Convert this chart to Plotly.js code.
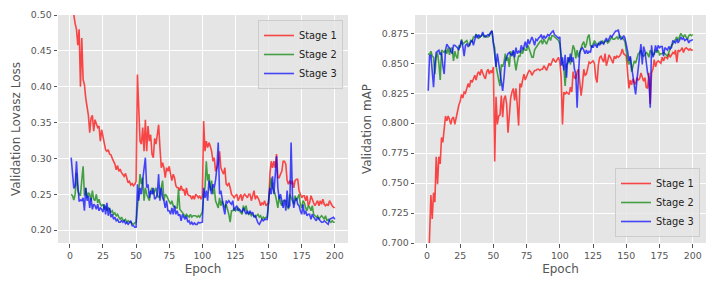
<!DOCTYPE html>
<html>
<head>
<meta charset="utf-8">
<script src="https://cdn.plot.ly/plotly-3.0.1.min.js"></script>
<style>
  html, body { margin: 0; padding: 0; background: #ffffff; }
  #chart { width: 720px; height: 288px; }
</style>
</head>
<body>
<div id="chart"></div>
<script>
// Epoch index (1..200)
const epochs = Array.from({length: 200}, (_, i) => i + 1);

const seriesNames = ["Stage 1", "Stage 2", "Stage 3"];

// Validation Lovasz Loss per epoch
const lossStage1 = [
  0.560,0.530,0.500,0.488,0.480,0.458,0.480,0.400,0.468,0.410,
  0.403,0.384,0.372,0.360,0.336,0.356,0.360,0.338,0.354,0.347,
  0.343,0.345,0.324,0.340,0.330,0.320,0.312,0.310,0.312,0.306,
  0.305,0.300,0.296,0.292,0.284,0.290,0.282,0.285,0.280,0.278,
  0.275,0.279,0.271,0.266,0.268,0.263,0.265,0.262,0.264,0.268,
  0.417,0.361,0.324,0.320,0.343,0.310,0.354,0.310,0.345,0.324,
  0.333,0.306,0.301,0.328,0.320,0.333,0.347,0.315,0.287,0.294,
  0.287,0.273,0.287,0.282,0.289,0.278,0.269,0.278,0.273,0.262,
  0.259,0.259,0.255,0.262,0.255,0.257,0.248,0.259,0.250,0.248,
  0.248,0.243,0.248,0.243,0.250,0.248,0.245,0.248,0.243,0.248,
  0.352,0.310,0.324,0.315,0.322,0.317,0.310,0.296,0.301,0.282,
  0.287,0.292,0.310,0.287,0.282,0.278,0.287,0.264,0.262,0.266,
  0.259,0.250,0.248,0.245,0.248,0.250,0.241,0.245,0.250,0.241,
  0.248,0.250,0.248,0.245,0.250,0.250,0.241,0.248,0.255,0.243,
  0.248,0.245,0.241,0.234,0.238,0.236,0.241,0.234,0.236,0.238,
  0.278,0.296,0.287,0.296,0.287,0.306,0.273,0.273,0.278,0.282,
  0.296,0.296,0.292,0.269,0.264,0.269,0.264,0.269,0.259,0.269,
  0.271,0.271,0.255,0.250,0.245,0.248,0.248,0.241,0.248,0.234,
  0.238,0.248,0.241,0.238,0.234,0.238,0.241,0.234,0.241,0.236,
  0.243,0.236,0.234,0.236,0.234,0.241,0.236,0.234,0.232,0.231
];
const lossStage2 = [
  0.250,0.248,0.242,0.250,0.280,0.255,0.250,0.248,0.270,0.289,
  0.248,0.259,0.245,0.252,0.250,0.241,0.255,0.243,0.241,0.250,
  0.238,0.243,0.236,0.234,0.236,0.229,0.234,0.227,0.231,0.229,
  0.225,0.227,0.222,0.224,0.220,0.222,0.218,0.215,0.218,0.214,
  0.213,0.215,0.211,0.213,0.211,0.211,0.209,0.208,0.210,0.211,
  0.231,0.259,0.278,0.264,0.273,0.241,0.259,0.250,0.245,0.241,
  0.255,0.259,0.250,0.255,0.259,0.248,0.245,0.250,0.260,0.269,
  0.241,0.250,0.248,0.243,0.241,0.236,0.241,0.234,0.233,0.231,
  0.231,0.257,0.229,0.227,0.225,0.222,0.218,0.222,0.220,0.218,
  0.222,0.218,0.220,0.220,0.220,0.218,0.220,0.218,0.222,0.225,
  0.250,0.259,0.296,0.269,0.278,0.255,0.269,0.250,0.259,0.241,
  0.236,0.231,0.245,0.234,0.241,0.234,0.231,0.236,0.230,0.222,
  0.211,0.227,0.227,0.231,0.227,0.229,0.231,0.227,0.225,0.222,
  0.234,0.227,0.234,0.224,0.222,0.225,0.220,0.222,0.220,0.218,
  0.220,0.222,0.218,0.220,0.215,0.218,0.216,0.218,0.218,0.245,
  0.259,0.273,0.259,0.255,0.250,0.241,0.231,0.248,0.238,0.234,
  0.241,0.241,0.241,0.234,0.229,0.250,0.245,0.241,0.236,0.248,
  0.241,0.245,0.250,0.236,0.231,0.241,0.238,0.231,0.227,0.234,
  0.232,0.227,0.234,0.222,0.220,0.218,0.220,0.215,0.218,0.220,
  0.218,0.215,0.220,0.213,0.215,0.213,0.211,0.213,0.211,0.211
];
const lossStage3 = [
  0.301,0.282,0.258,0.262,0.296,0.264,0.240,0.242,0.241,0.245,
  0.227,0.259,0.241,0.248,0.231,0.245,0.229,0.236,0.234,0.229,
  0.236,0.227,0.231,0.229,0.225,0.236,0.222,0.238,0.220,0.231,
  0.218,0.222,0.215,0.218,0.213,0.215,0.211,0.211,0.213,0.211,
  0.213,0.209,0.211,0.208,0.210,0.213,0.206,0.206,0.204,0.204,
  0.264,0.241,0.259,0.250,0.270,0.287,0.301,0.259,0.264,0.245,
  0.255,0.250,0.259,0.243,0.245,0.250,0.278,0.241,0.259,0.245,
  0.241,0.231,0.241,0.227,0.227,0.222,0.231,0.222,0.234,0.222,
  0.227,0.220,0.222,0.213,0.222,0.218,0.215,0.220,0.211,0.213,
  0.208,0.211,0.208,0.210,0.208,0.208,0.211,0.210,0.211,0.211,
  0.259,0.245,0.255,0.241,0.269,0.259,0.250,0.264,0.259,0.270,
  0.287,0.322,0.250,0.255,0.241,0.231,0.222,0.241,0.238,0.241,
  0.238,0.236,0.241,0.227,0.231,0.234,0.227,0.229,0.227,0.225,
  0.231,0.226,0.222,0.227,0.222,0.227,0.223,0.225,0.218,0.220,
  0.213,0.210,0.208,0.213,0.215,0.213,0.215,0.215,0.215,0.241,
  0.259,0.250,0.275,0.250,0.278,0.303,0.259,0.243,0.250,0.238,
  0.231,0.243,0.227,0.255,0.231,0.234,0.322,0.250,0.231,0.241,
  0.245,0.236,0.234,0.227,0.222,0.236,0.222,0.227,0.220,0.222,
  0.222,0.215,0.222,0.218,0.215,0.213,0.218,0.215,0.213,0.211,
  0.211,0.213,0.211,0.209,0.208,0.215,0.216,0.218,0.218,0.215
];

// Validation mAP per epoch
const mapStage1 = [
  0.670,0.700,0.740,0.720,0.742,0.734,0.772,0.749,0.772,0.766,
  0.788,0.784,0.799,0.806,0.802,0.806,0.803,0.799,0.804,0.805,
  0.799,0.805,0.811,0.815,0.818,0.824,0.821,0.826,0.825,0.829,
  0.833,0.830,0.836,0.834,0.837,0.840,0.836,0.841,0.843,0.840,
  0.845,0.841,0.839,0.837,0.843,0.845,0.841,0.844,0.842,0.847,
  0.768,0.822,0.799,0.806,0.807,0.823,0.805,0.820,0.823,0.816,
  0.792,0.806,0.821,0.826,0.829,0.819,0.829,0.815,0.798,0.833,
  0.830,0.836,0.841,0.836,0.840,0.842,0.844,0.843,0.840,0.842,
  0.844,0.844,0.845,0.845,0.844,0.845,0.845,0.848,0.846,0.844,
  0.847,0.850,0.848,0.852,0.854,0.852,0.851,0.853,0.855,0.851,
  0.838,0.799,0.826,0.824,0.826,0.825,0.824,0.830,0.826,0.843,
  0.838,0.837,0.843,0.845,0.836,0.823,0.832,0.845,0.840,0.841,
  0.846,0.851,0.850,0.851,0.852,0.850,0.838,0.834,0.849,0.855,
  0.856,0.853,0.851,0.858,0.848,0.852,0.857,0.855,0.852,0.850,
  0.856,0.854,0.856,0.855,0.856,0.858,0.862,0.858,0.857,0.856,
  0.842,0.829,0.836,0.832,0.837,0.834,0.833,0.838,0.836,0.837,
  0.842,0.838,0.835,0.838,0.830,0.829,0.842,0.816,0.842,0.845,
  0.853,0.847,0.851,0.852,0.851,0.850,0.855,0.852,0.855,0.855,
  0.854,0.858,0.855,0.857,0.859,0.858,0.861,0.851,0.861,0.860,
  0.861,0.863,0.859,0.862,0.863,0.862,0.861,0.862,0.861,0.861
];
const mapStage2 = [
  0.858,0.857,0.860,0.856,0.855,0.841,0.855,0.859,0.850,0.836,
  0.861,0.860,0.859,0.861,0.858,0.863,0.857,0.862,0.863,0.852,
  0.860,0.856,0.854,0.865,0.863,0.870,0.866,0.867,0.868,0.869,
  0.866,0.865,0.869,0.868,0.872,0.872,0.874,0.873,0.871,0.872,
  0.873,0.874,0.872,0.873,0.872,0.872,0.874,0.876,0.877,0.867,
  0.863,0.848,0.840,0.836,0.831,0.849,0.847,0.851,0.858,0.852,
  0.855,0.847,0.860,0.857,0.860,0.853,0.844,0.851,0.856,0.856,
  0.861,0.858,0.863,0.861,0.861,0.865,0.861,0.858,0.855,0.855,
  0.861,0.863,0.865,0.866,0.868,0.869,0.866,0.870,0.868,0.866,
  0.869,0.872,0.869,0.873,0.873,0.872,0.871,0.870,0.869,0.866,
  0.856,0.849,0.847,0.831,0.849,0.850,0.855,0.849,0.858,0.865,
  0.862,0.854,0.861,0.855,0.859,0.863,0.866,0.868,0.863,0.866,
  0.872,0.874,0.865,0.863,0.866,0.869,0.867,0.865,0.866,0.868,
  0.866,0.869,0.867,0.868,0.869,0.867,0.868,0.870,0.872,0.870,
  0.870,0.871,0.872,0.870,0.873,0.872,0.871,0.870,0.868,0.861,
  0.852,0.849,0.855,0.843,0.849,0.852,0.850,0.855,0.858,0.859,
  0.861,0.857,0.856,0.857,0.859,0.858,0.855,0.861,0.859,0.857,
  0.858,0.861,0.859,0.861,0.857,0.858,0.858,0.859,0.858,0.857,
  0.856,0.859,0.863,0.865,0.866,0.868,0.870,0.872,0.869,0.872,
  0.875,0.873,0.872,0.874,0.872,0.870,0.873,0.874,0.873,0.874
];
const mapStage3 = [
  0.827,0.856,0.857,0.846,0.830,0.849,0.859,0.860,0.861,0.857,
  0.859,0.848,0.841,0.861,0.866,0.864,0.863,0.860,0.858,0.865,
  0.865,0.864,0.863,0.861,0.866,0.869,0.864,0.856,0.865,0.866,
  0.864,0.865,0.868,0.869,0.865,0.870,0.874,0.871,0.874,0.872,
  0.873,0.876,0.873,0.872,0.873,0.874,0.873,0.876,0.877,0.868,
  0.855,0.847,0.858,0.849,0.844,0.836,0.827,0.838,0.852,0.855,
  0.858,0.859,0.857,0.856,0.861,0.855,0.863,0.858,0.860,0.859,
  0.865,0.861,0.864,0.868,0.863,0.870,0.866,0.870,0.872,0.869,
  0.865,0.870,0.869,0.871,0.872,0.874,0.870,0.873,0.871,0.872,
  0.874,0.873,0.875,0.876,0.877,0.874,0.873,0.872,0.871,0.872,
  0.848,0.855,0.844,0.857,0.838,0.855,0.851,0.858,0.851,0.855,
  0.845,0.841,0.813,0.841,0.859,0.862,0.863,0.861,0.858,0.861,
  0.858,0.860,0.859,0.865,0.863,0.866,0.865,0.863,0.867,0.865,
  0.868,0.867,0.866,0.869,0.871,0.868,0.870,0.873,0.872,0.874,
  0.876,0.877,0.877,0.878,0.872,0.870,0.871,0.873,0.871,0.866,
  0.860,0.852,0.856,0.847,0.839,0.831,0.824,0.836,0.847,0.855,
  0.866,0.849,0.864,0.860,0.849,0.842,0.838,0.813,0.865,0.855,
  0.858,0.865,0.860,0.865,0.863,0.864,0.864,0.856,0.863,0.862,
  0.861,0.864,0.862,0.863,0.869,0.868,0.867,0.870,0.867,0.869,
  0.872,0.870,0.871,0.869,0.870,0.870,0.867,0.869,0.869,0.870
];

const lossSeries = [lossStage1, lossStage2, lossStage3];
const mapSeries = [mapStage1, mapStage2, mapStage3];
const lineColors = ["rgba(255,0,0,0.7)", "rgba(0,128,0,0.7)", "rgba(0,0,255,0.7)"];

const traces = [];
lossSeries.forEach((ys, i) => {
  traces.push({
    type: "scatter", mode: "lines", name: seriesNames[i],
    x: epochs, y: ys, xaxis: "x", yaxis: "y", legend: "legend",
    line: {color: lineColors[i], width: 1.6}
  });
});
mapSeries.forEach((ys, i) => {
  traces.push({
    type: "scatter", mode: "lines", name: seriesNames[i],
    x: epochs, y: ys, xaxis: "x2", yaxis: "y2", legend: "legend2",
    line: {color: lineColors[i], width: 1.6}
  });
});

const FONT = "DejaVu Sans, sans-serif";
const tickFont = {family: FONT, size: 9.4, color: "#555555"};
const titleFont = {family: FONT, size: 12, color: "#555555"};

function xAxis(domain, anchor) {
  return {
    domain: domain, anchor: anchor, range: [-8.95, 209.95],
    tick0: 0, dtick: 25, ticks: "outside", ticklen: 3.5, tickwidth: 1, tickcolor: "#555555",
    showgrid: true, gridcolor: "#ffffff", gridwidth: 1, zeroline: false, showline: false,
    tickfont: tickFont, automargin: false,
    title: {text: "Epoch", font: titleFont, standoff: 4}
  };
}

const layout = {
  width: 720, height: 288,
  margin: {l: 0, r: 0, t: 0, b: 0},
  paper_bgcolor: "#ffffff", plot_bgcolor: "#E5E5E5",
  showlegend: true,
  xaxis: xAxis([58/720, 348/720], "y"),
  xaxis2: xAxis([415/720, 706/720], "y2"),
  yaxis: {
    domain: [1 - 243/288, 1 - 15/288], anchor: "x", range: [0.182, 0.5],
    tick0: 0.2, dtick: 0.05, tickformat: ".2f",
    ticks: "outside", ticklen: 3.5, tickwidth: 1, tickcolor: "#555555",
    showgrid: true, gridcolor: "#ffffff", gridwidth: 1, zeroline: false, showline: false,
    tickfont: tickFont, automargin: false,
    title: {text: "Validation Lovasz Loss", font: titleFont, standoff: 7}
  },
  yaxis2: {
    domain: [1 - 243/288, 1 - 15/288], anchor: "x2", range: [0.7, 0.8903],
    tick0: 0.7, dtick: 0.025, tickformat: ".3f",
    ticks: "outside", ticklen: 3.5, tickwidth: 1, tickcolor: "#555555",
    showgrid: true, gridcolor: "#ffffff", gridwidth: 1, zeroline: false, showline: false,
    tickfont: tickFont, automargin: false,
    title: {text: "Validation mAP", font: titleFont, standoff: 7}
  },
  legend: {
    x: 343/720, xanchor: "right", y: 1 - 20/288, yanchor: "top",
    bgcolor: "rgba(229,229,229,0.8)", bordercolor: "#CCCCCC", borderwidth: 1,
    font: {family: FONT, size: 9.8, color: "#222222"}, itemwidth: 30, tracegroupgap: 0
  },
  legend2: {
    x: 700/720, xanchor: "right", y: 1 - 237/288, yanchor: "bottom",
    bgcolor: "rgba(229,229,229,0.8)", bordercolor: "#CCCCCC", borderwidth: 1,
    font: {family: FONT, size: 9.8, color: "#222222"}, itemwidth: 30, tracegroupgap: 0
  }
};

Plotly.newPlot("chart", traces, layout, {staticPlot: true, displayModeBar: false});
</script>
</body>
</html>
